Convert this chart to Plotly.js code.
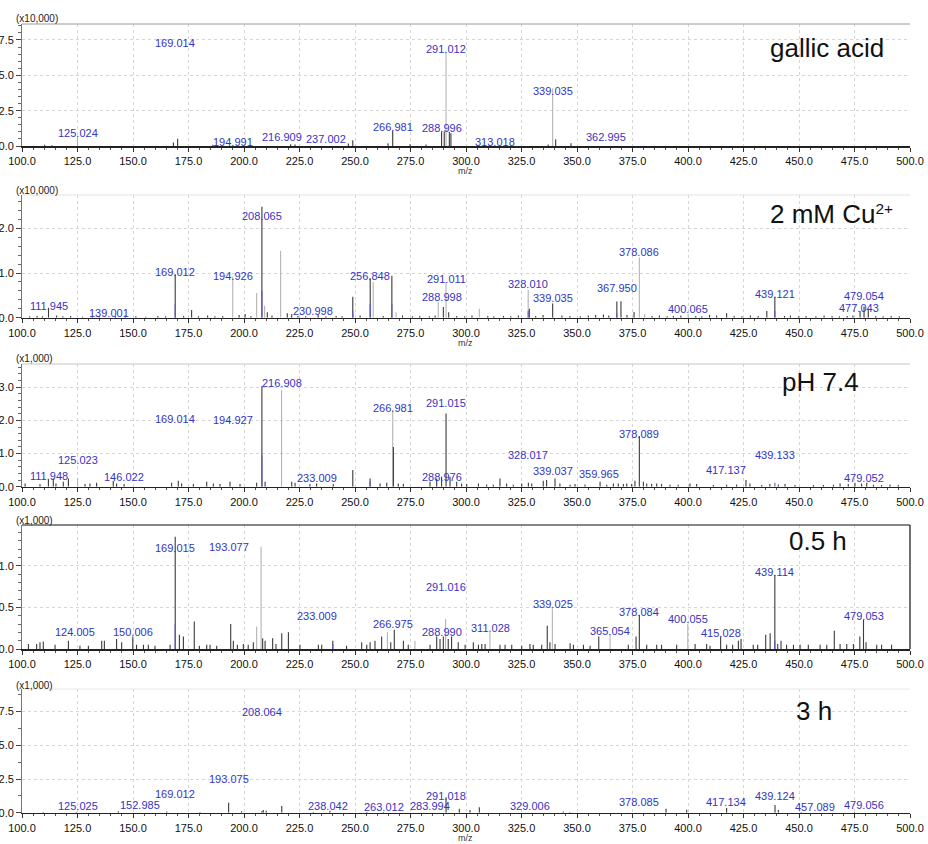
<!DOCTYPE html>
<html>
<head>
<meta charset="utf-8">
<script src="https://cdn.plot.ly/plotly-3.0.1.min.js"></script>
<style>
  html, body { margin: 0; padding: 0; background: #ffffff; }
  #chart { width: 928px; height: 844px; }
</style>
</head>
<body>
<div id="chart"></div>
<script>
// ---------- Panel 1: gallic acid (x10,000) ----------
const mzDark1  = [110.2, 113.5, 168.2, 170.1, 186.0, 221.0, 223.0, 247.0, 249.0, 264.9, 266.981, 274.8, 282.0, 288.996, 290.2, 292.5, 293.2, 337.0, 340.4, 347.3];
const intDark1 = [0.08, 0.06, 0.25, 0.52, 0.08, 0.12, 0.10, 0.18, 0.40, 0.20, 1.08, 0.12, 0.10, 1.00, 1.02, 1.00, 0.90, 0.10, 0.47, 0.20];
const mzLight1  = [125.024, 291.012, 339.035];
const intLight1 = [0.66, 6.67, 4.08];
const mzBlue1  = [];
const intBlue1 = [];
const labels1  = ['125.024', '169.014', '194.991', '216.909', '237.002', '266.981', '288.996', '291.012', '313.018', '339.035', '362.995'];
const labelY1  = [0.90, 7.27, 0.30, 0.66, 0.47, 1.32, 1.25, 6.84, 0.26, 3.91, 0.62];

// ---------- Panel 2: 2 mM Cu2+ (x10,000) ----------
const mzDark2  = [111.945, 169.012, 176.4, 200.5, 208.065, 210.5, 219.5, 221.5, 249.0, 256.848, 266.6, 289.8, 292.2, 328.5, 339.035, 367.950, 369.8, 375.7, 417.4, 435.5, 439.121, 477.5, 479.3, 481.2,
                  103.5, 106.8, 109.2, 115.6, 118.4, 121.9, 127.3, 131.6, 134.8, 142.1, 146.5, 151.3, 155.8, 161.2, 164.7, 172.8, 179.5, 183.6, 186.9, 190.4, 197.8, 203.1, 212.6, 224.3, 227.8, 233.4, 236.9, 241.5, 244.2, 252.3, 262.7, 271.4, 275.9, 279.2, 283.5, 286.1, 295.8, 299.4, 302.7, 309.8, 312.5, 316.9, 320.2, 323.6, 331.4, 334.7, 343.2, 346.8, 351.5, 355.1, 358.4, 361.9, 364.3, 372.5, 383.8, 387.1, 390.6, 393.4, 396.8, 403.5, 406.2, 409.7, 412.9, 420.8, 424.3, 428.1, 431.6, 443.5, 446.1, 449.8, 453.2, 457.6, 461.3, 464.9, 468.2, 471.7, 474.3, 484.6, 487.9, 491.5, 495.2];
const intDark2 = [0.22, 0.97, 0.17, 0.08, 2.48, 0.12, 0.10, 0.08, 0.47, 0.88, 0.94, 0.24, 0.12, 0.20, 0.32, 0.36, 0.37, 0.13, 0.10, 0.15, 0.47, 0.15, 0.25, 0.20,
                  0.03, 0.04, 0.03, 0.05, 0.03, 0.04, 0.02, 0.04, 0.03, 0.03, 0.05, 0.03, 0.02, 0.04, 0.03, 0.04, 0.03, 0.05, 0.03, 0.04, 0.06, 0.04, 0.05, 0.04, 0.03, 0.06, 0.03, 0.04, 0.03, 0.05, 0.04, 0.05, 0.03, 0.04, 0.03, 0.05, 0.04, 0.03, 0.05, 0.04, 0.03, 0.04, 0.03, 0.05, 0.04, 0.06, 0.05, 0.04, 0.03, 0.05, 0.06, 0.07, 0.05, 0.06, 0.04, 0.05, 0.03, 0.04, 0.05, 0.04, 0.03, 0.06, 0.05, 0.04, 0.03, 0.05, 0.04, 0.04, 0.05, 0.03, 0.04, 0.03, 0.05, 0.04, 0.03, 0.04, 0.05, 0.04, 0.03, 0.04, 0.03];
const mzLight2  = [194.926, 205.7, 209.3, 216.5, 258.2, 268.5, 287.5, 291.011, 306.0, 328.010, 378.086, 380.5, 400.065];
const intLight2 = [0.92, 0.55, 0.27, 1.50, 0.80, 0.12, 0.35, 0.80, 0.20, 0.62, 1.35, 0.08, 0.08];
const mzBlue2  = [169.012, 208.065, 249.0, 256.848, 266.6, 328.010, 367.950, 439.121];
const intBlue2 = [0.30, 0.60, 0.15, 0.30, 0.30, 0.15, 0.10, 0.15];
const labels2  = ['111.945', '139.001', '169.012', '194.926', '208.065', '230.998', '256.848', '288.998', '291.011', '328.010', '339.035', '367.950', '378.086', '400.065', '439.121', '477.043', '479.054'];
const labelY2  = [0.27, 0.10, 1.02, 0.94, 2.28, 0.15, 0.93, 0.46, 0.86, 0.75, 0.43, 0.66, 1.48, 0.19, 0.52, 0.21, 0.49];

// ---------- Panel 3: pH 7.4 (x1,000) ----------
const mzDark3  = [101.4, 108.1, 111.9, 114.1, 115.3, 118.6, 120.9, 128.4, 130.6, 133.6, 141.1, 142.6, 146.0, 167.4, 170.4, 171.9, 177.2, 183.2, 186.2, 189.2, 193.7, 198.2, 205.7, 208.065, 209.5, 221.5, 223.0, 229.7, 232.7, 240.2, 249.0, 256.8, 261.3, 264.3, 267.3, 269.5, 271.8, 283.8, 286.8, 289.0, 291.015, 292.8, 295.8, 298.0,
                  300.3, 305.6, 309.3, 312.3, 315.3, 318.3, 321.3, 325.1, 328.1, 329.6, 334.8, 336.3, 340.1, 342.3, 346.9, 349.1, 353.6, 360.4, 363.4, 366.4, 368.6, 370.9, 372.4, 374.6, 376.1, 378.089, 379.9, 381.4, 383.6, 385.9, 388.1, 391.9, 395.6, 400.9, 403.9, 411.4, 417.4, 421.9, 426.1, 427.9, 433.2, 436.9, 440.7, 443.7, 448.2, 456.5, 461.0, 465.5, 468.5, 472.2, 475.2, 478.2, 480.5, 483.5, 487.2, 491.0, 494.7];
const intDark3 = [0.10, 0.08, 0.22, 0.25, 0.10, 0.15, 0.25, 0.08, 0.10, 0.12, 0.17, 0.10, 0.08, 0.12, 0.18, 0.10, 0.08, 0.15, 0.10, 0.08, 0.15, 0.08, 0.12, 3.04, 0.15, 0.15, 0.12, 0.08, 0.10, 0.08, 0.50, 0.25, 0.10, 0.12, 1.20, 0.10, 0.08, 0.15, 0.25, 0.30, 2.21, 0.30, 0.15, 0.10,
                  0.08, 0.10, 0.07, 0.06, 0.25, 0.10, 0.06, 0.10, 0.12, 0.10, 0.18, 0.20, 0.25, 0.10, 0.06, 0.08, 0.07, 0.15, 0.06, 0.10, 0.10, 0.08, 0.10, 0.08, 0.18, 1.53, 0.15, 0.10, 0.08, 0.10, 0.08, 0.06, 0.06, 0.10, 0.08, 0.05, 0.06, 0.07, 0.20, 0.10, 0.05, 0.08, 0.07, 0.08, 0.05, 0.05, 0.05, 0.06, 0.10, 0.08, 0.12, 0.10, 0.12, 0.06, 0.05, 0.07, 0.05];
const mzLight3  = [125.023, 216.908, 266.981];
const intLight3 = [0.26, 2.91, 2.31];
const mzBlue3  = [208.065, 256.8, 439.133];
const intBlue3 = [0.95, 0.15, 0.12];
const labels3  = ['111.948', '125.023', '146.022', '169.014', '194.927', '216.908', '233.009', '266.981', '288.976', '291.015', '328.017', '339.037', '359.965', '378.089', '417.137', '439.133', '479.052'];
const labelY3  = [0.32, 0.82, 0.28, 2.03, 2.01, 3.14, 0.25, 2.38, 0.30, 2.51, 0.97, 0.47, 0.38, 1.58, 0.50, 0.95, 0.27];

// ---------- Panel 4: 0.5 h (x1,000) ----------
const mzDark4  = [102.9, 106.6, 108.1, 109.6, 114.9, 120.9, 126.1, 129.9, 135.9, 137.1, 142.6, 144.9, 149.9, 151.6, 154.7, 156.9, 159.9, 166.7, 169.015, 170.9, 172.7, 177.6, 179.9, 183.2, 184.7, 187.7, 194.0, 195.2, 197.0, 199.7, 201.9, 204.2, 208.4, 209.5, 212.9, 214.4, 217.0, 220.0, 225.2, 233.5, 235.0, 240.0, 246.2, 253.0, 255.3, 256.8, 259.0, 262.0, 266.1, 267.7, 271.8, 274.0, 283.8, 286.8, 288.3, 289.8, 292.0, 293.5, 296.5,
                  299.6, 303.3, 305.6, 307.1, 308.6, 315.3, 317.6, 320.6, 325.1, 328.8, 330.3, 334.1, 336.6, 337.8, 340.1, 346.9, 348.4, 352.9, 355.9, 359.8, 373.1, 376.6, 378.084, 381.4, 385.9, 388.1, 394.9, 403.2, 408.4, 409.9, 414.7, 417.4, 420.1, 422.7, 423.9, 429.4, 431.4, 435.0, 437.0, 439.114, 440.4, 441.9, 444.4, 447.5, 450.5, 454.2, 459.5, 462.5, 465.9, 468.5, 471.5, 474.5, 477.4, 479.053, 480.2, 485.0, 487.2, 491.7];
const intDark4 = [0.06, 0.06, 0.08, 0.09, 0.05, 0.10, 0.04, 0.04, 0.10, 0.10, 0.12, 0.08, 0.15, 0.05, 0.05, 0.05, 0.04, 0.05, 1.35, 0.17, 0.15, 0.33, 0.04, 0.05, 0.05, 0.04, 0.30, 0.10, 0.05, 0.06, 0.05, 0.08, 0.13, 0.10, 0.13, 0.06, 0.19, 0.20, 0.05, 0.05, 0.05, 0.10, 0.04, 0.08, 0.05, 0.08, 0.10, 0.15, 0.08, 0.23, 0.10, 0.05, 0.05, 0.15, 0.12, 0.15, 0.12, 0.15, 0.08,
                  0.05, 0.08, 0.05, 0.06, 0.06, 0.05, 0.05, 0.05, 0.04, 0.06, 0.05, 0.05, 0.28, 0.08, 0.06, 0.07, 0.05, 0.05, 0.04, 0.15, 0.05, 0.15, 0.41, 0.05, 0.05, 0.05, 0.05, 0.06, 0.06, 0.04, 0.15, 0.05, 0.05, 0.10, 0.12, 0.05, 0.05, 0.17, 0.19, 0.89, 0.06, 0.10, 0.05, 0.05, 0.05, 0.05, 0.05, 0.05, 0.22, 0.06, 0.06, 0.06, 0.15, 0.35, 0.08, 0.05, 0.05, 0.05];
const mzLight4  = [205.7, 207.7, 264.6, 277.0, 290.8, 310.8, 338.9, 364.9, 399.9];
const intLight4 = [0.27, 1.23, 0.20, 0.10, 0.36, 0.20, 0.49, 0.18, 0.30];
const mzBlue4  = [169.015, 439.114, 240.0];
const intBlue4 = [0.30, 0.10, 0.06];
const labels4  = ['124.005', '150.006', '169.015', '193.077', '233.009', '266.975', '288.990', '291.016', '311.028', '339.025', '365.054', '378.084', '400.055', '415.028', '439.114', '479.053'];
const labelY4  = [0.21, 0.20, 1.21, 1.22, 0.40, 0.30, 0.20, 0.74, 0.25, 0.54, 0.22, 0.44, 0.36, 0.19, 0.92, 0.40];

// ---------- Panel 5: 3 h (x1,000) ----------
const mzDark5  = [109.6, 124.5, 143.4, 165.2, 180.2, 193.075, 198.9, 208.064, 208.7, 210.0, 217.0, 231.2, 238.7, 255.3, 262.8, 291.018, 297.0, 301.8, 306.0, 343.8, 346.8, 390.1, 399.4, 417.4, 439.2, 440.7, 451.0, 475.0];
const intDark5 = [0.05, 0.05, 0.10, 0.08, 0.05, 0.74, 0.10, 0.12, 0.20, 0.15, 0.50, 0.06, 0.15, 0.05, 0.05, 1.14, 0.30, 0.20, 0.40, 0.08, 0.06, 0.30, 0.22, 0.35, 0.57, 0.20, 0.05, 0.05];
const mzLight5  = [];
const intLight5 = [];
const mzBlue5  = [];
const intBlue5 = [];
const labels5  = ['125.025', '152.985', '169.012', '193.075', '208.064', '238.042', '263.012', '283.994', '291.018', '329.006', '378.085', '417.134', '439.124', '457.089', '479.056'];
const labelY5  = [0.50, 0.57, 1.39, 2.50, 7.50, 0.50, 0.45, 0.50, 1.26, 0.50, 0.77, 0.77, 1.24, 0.45, 0.57];

// Panel names, intensity multipliers and y-axis settings
const panelNames  = ['gallic acid', '2 mM Cu<span style="font-size:22px"><sup>2+</sup></span>', 'pH 7.4', '0.5 h', '3 h'];
const scaleTexts  = ['(x10,000)', '(x10,000)', '(x1,000)', '(x1,000)', '(x1,000)'];
const yMax        = [8.63, 2.745, 3.70, 1.49, 9.18];
const yStep       = [2.5, 1.0, 1.0, 0.5, 2.5];
const yMinorStep  = [0.5, 0.2, 0.2, 0.1, 1.25];

// ---------- layout geometry (pixel boxes of each plot area) ----------
const W = 928, H = 844;
const plotLeft = 22, plotRight = 910;
const plotTops    = [24, 195, 364, 525, 689];
const plotBottoms = [146, 317.7, 486.7, 649, 812.7];
const nameCenters = [[827, 48], [831, 214], [820, 382], [818, 541], [814, 711]];
const scaleTextY  = [18, 190, 358, 520, 685];
const mzTitleY    = [171, 343, null, null, 838];

const COL_DARK = '#3c3c3c', COL_LIGHT = '#b4b4b4', COL_BLUE = '#5a5ad2', COL_LABEL = '#3434c4';
const FONT = 'Liberation Sans, Arial, sans-serif';

const series = [
  [mzDark1, intDark1, mzLight1, intLight1, mzBlue1, intBlue1, labels1, labelY1],
  [mzDark2, intDark2, mzLight2, intLight2, mzBlue2, intBlue2, labels2, labelY2],
  [mzDark3, intDark3, mzLight3, intLight3, mzBlue3, intBlue3, labels3, labelY3],
  [mzDark4, intDark4, mzLight4, intLight4, mzBlue4, intBlue4, labels4, labelY4],
  [mzDark5, intDark5, mzLight5, intLight5, mzBlue5, intBlue5, labels5, labelY5]
];

const px2x = p => p / W;
const px2y = p => 1 - p / H;

const traces = [];
const annotations = [];
const shapes = [];
const layout = {
  width: W, height: H,
  margin: { l: 0, r: 0, t: 0, b: 0, pad: 0 },
  paper_bgcolor: '#ffffff', plot_bgcolor: '#ffffff',
  showlegend: false,
  barmode: 'overlay',
  font: { family: FONT, size: 11, color: '#111' }
};

function addBars(mz, inten, color, n) {
  if (!mz.length) return;
  const sfx = n === 1 ? '' : String(n);
  traces.push({
    type: 'bar', x: mz, y: inten, width: 0.5,
    marker: { color: color, line: { width: 0 } },
    xaxis: 'x' + sfx, yaxis: 'y' + sfx, hoverinfo: 'skip'
  });
}

series.forEach((s, i) => {
  const n = i + 1;
  const sfx = n === 1 ? '' : String(n);
  const [mzD, iD, mzL, iL, mzB, iB, labs, labY] = s;

  addBars(mzL, iL, COL_LIGHT, n);
  addBars(mzD, iD, COL_DARK, n);
  addBars(mzB, iB, COL_BLUE, n);

  const yDom = [px2y(plotBottoms[i]), px2y(plotTops[i])];
  layout['xaxis' + sfx] = {
    domain: [px2x(plotLeft), px2x(plotRight)],
    anchor: 'y' + sfx,
    range: [100, 500], fixedrange: true,
    tick0: 100, dtick: 25, tickformat: '.1f',
    ticks: 'outside', ticklen: 4, tickwidth: 1, tickcolor: '#333',
    minor: { dtick: 5, ticks: 'outside', ticklen: 2, tickcolor: '#555', showgrid: false },
    showgrid: true, gridcolor: '#d6d6d6', griddash: 'dot', gridwidth: 1,
    showline: true, linecolor: '#222', linewidth: 1.6,
    zeroline: false,
    tickfont: { family: FONT, size: 11, color: '#111' }
  };
  layout['yaxis' + sfx] = {
    domain: yDom,
    anchor: 'x' + sfx,
    range: [0, yMax[i]], fixedrange: true,
    tick0: 0, dtick: yStep[i], tickformat: '.1f',
    ticks: 'outside', ticklen: 5, tickwidth: 1, tickcolor: '#444',
    minor: { dtick: yMinorStep[i], ticks: 'outside', ticklen: 3, tickcolor: '#666', showgrid: false },
    showgrid: true, gridcolor: '#d6d6d6', griddash: 'dot', gridwidth: 1,
    showline: true, linecolor: '#777', linewidth: 1,
    zeroline: false,
    tickfont: { family: FONT, size: 11, color: '#111' }
  };

  // peak m/z labels
  labs.forEach((t, k) => {
    annotations.push({
      x: parseFloat(t), y: labY[k], xref: 'x' + sfx, yref: 'y' + sfx,
      text: t, showarrow: false, xanchor: 'center', yanchor: 'middle',
      font: { family: FONT, size: 11, color: COL_LABEL }
    });
  });

  // sample name
  annotations.push({
    x: px2x(nameCenters[i][0]), y: px2y(nameCenters[i][1]), xref: 'paper', yref: 'paper',
    text: panelNames[i], showarrow: false, xanchor: 'center', yanchor: 'middle',
    font: { family: FONT, size: 26, color: '#111' }
  });

  // intensity multiplier
  annotations.push({
    x: px2x(14), y: px2y(scaleTextY[i]), xref: 'paper', yref: 'paper',
    text: scaleTexts[i], showarrow: false, xanchor: 'left', yanchor: 'middle',
    font: { family: FONT, size: 10, color: '#222' }
  });

  // m/z axis caption
  if (mzTitleY[i] !== null) {
    annotations.push({
      x: px2x(465), y: px2y(mzTitleY[i]), xref: 'paper', yref: 'paper',
      text: 'm/z', showarrow: false, xanchor: 'center', yanchor: 'middle',
      font: { family: FONT, size: 9, color: '#333' }
    });
  }
});

// plot-area frames (top border; the 0.5 h panel has a full dark frame)
const frameColors = ['#9a9a9a', '#e2e2e2', '#c4c4c4', '#111111', '#e6e6e6'];
plotTops.forEach((t, i) => {
  shapes.push({
    type: 'line', xref: 'paper', yref: 'paper',
    x0: px2x(plotLeft), x1: px2x(plotRight), y0: px2y(t), y1: px2y(t),
    line: { color: frameColors[i], width: i === 3 ? 1.2 : 1 }
  });
});
shapes.push({
  type: 'line', xref: 'paper', yref: 'paper',
  x0: px2x(plotRight), x1: px2x(plotRight), y0: px2y(plotBottoms[3]), y1: px2y(plotTops[3]),
  line: { color: '#111111', width: 1.2 }
});

layout.annotations = annotations;
layout.shapes = shapes;

Plotly.newPlot('chart', traces, layout, { staticPlot: true, displayModeBar: false });
</script>
</body>
</html>
